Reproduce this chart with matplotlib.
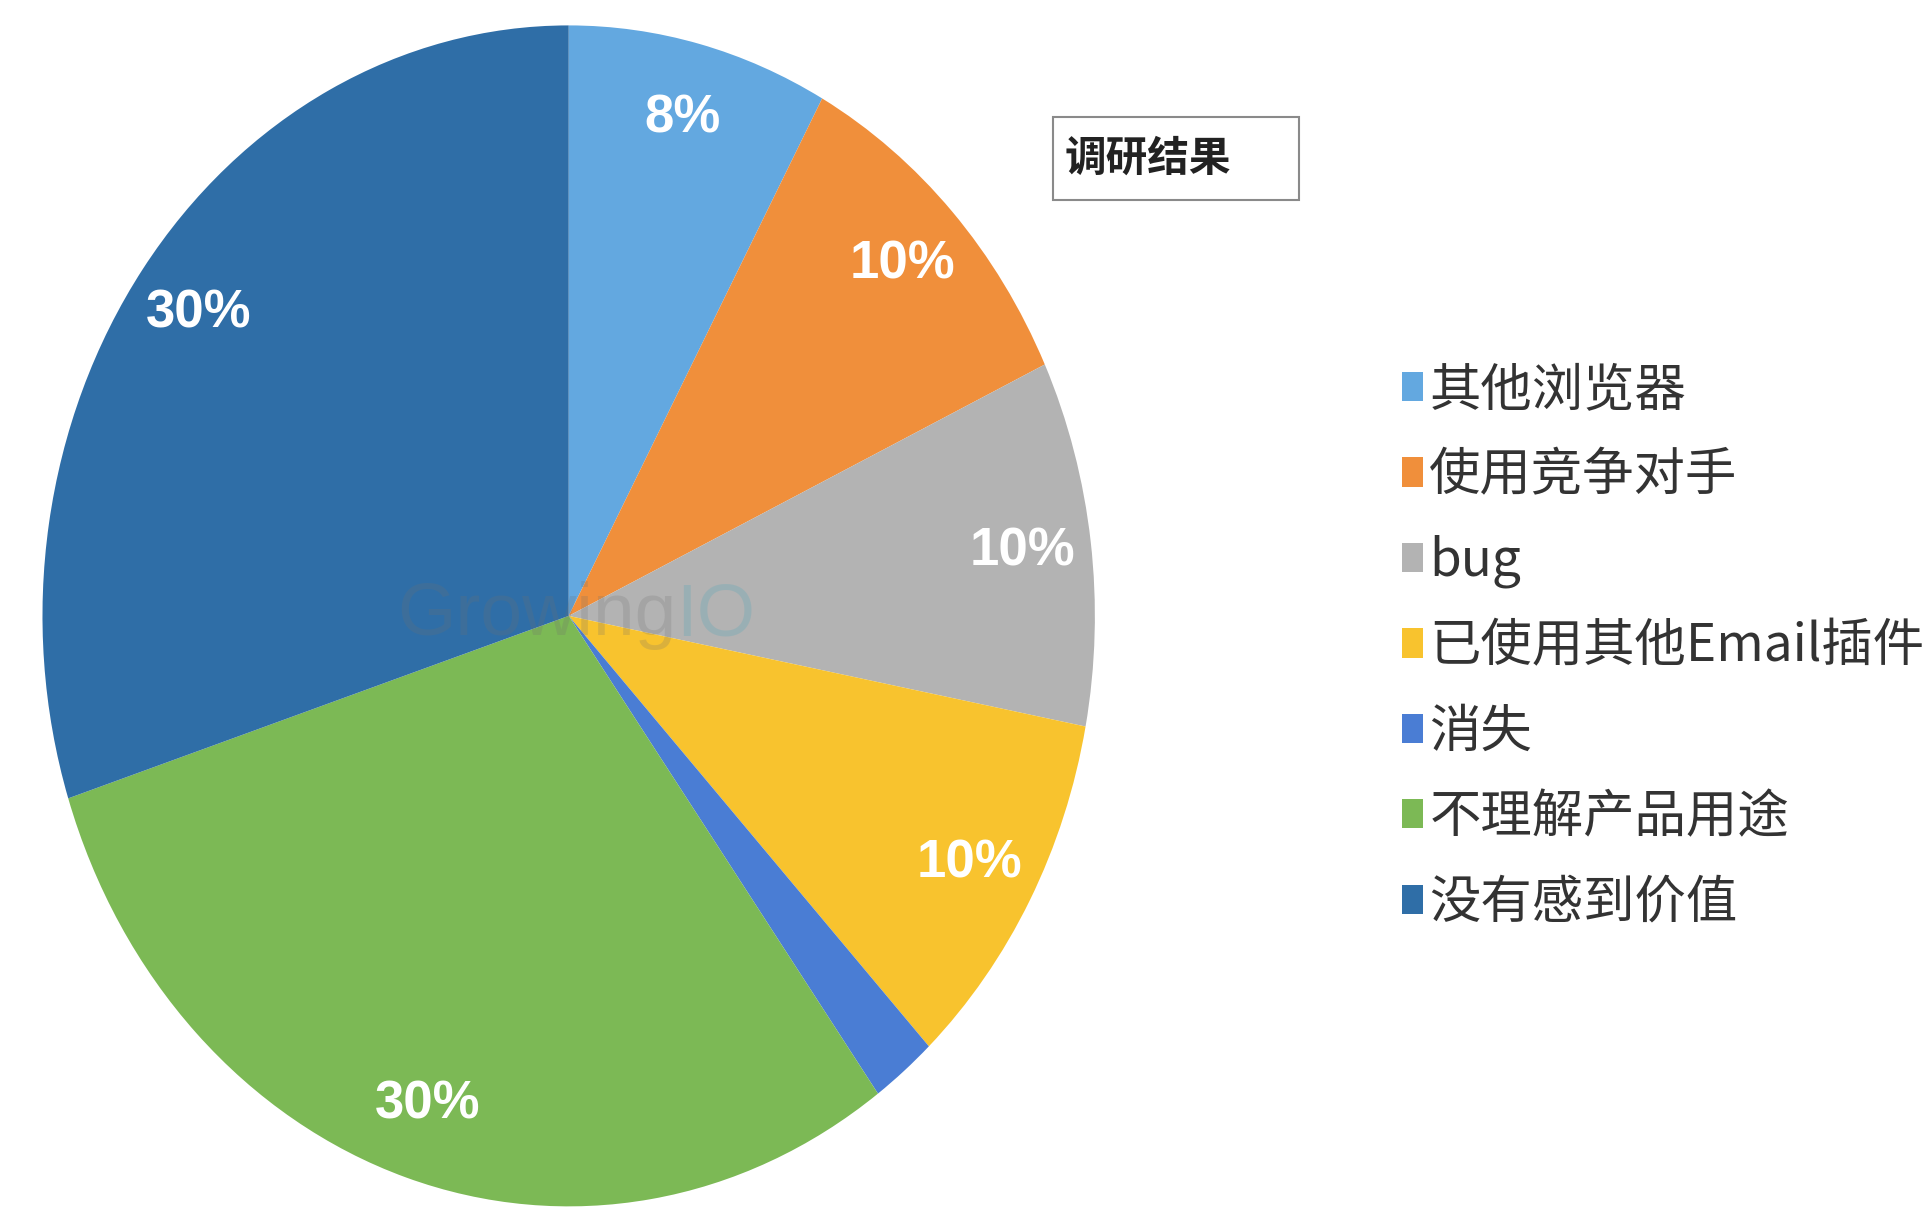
import matplotlib
matplotlib.use('Agg')
import matplotlib.pyplot as plt
from matplotlib.patches import Rectangle

plt.rcParams['font.family'] = ['Noto Sans CJK SC', 'DejaVu Sans']

labels = ['其他浏览器', '使用竞争对手', 'bug', '已使用其他Email插件', '消失', '不理解产品用途', '没有感到价值']
values = [8, 10, 10, 10, 2, 30, 30]
colors = ['#63A8E0', '#F08F3B', '#B3B3B3', '#F8C32E', '#4A7DD4', '#7CB955', '#2F6EA7']
title = '调研结果'

fig = plt.figure(figsize=(19.31, 12.10), dpi=100)
ax = fig.add_axes([0.022, 0.003, 0.545, 0.976])

def pct_label(p):
    return '%d%%' % round(p) if p >= 5 else ''

wedges, texts, autotexts = ax.pie(values, colors=colors, startangle=90, counterclock=False,
                                  autopct=pct_label, pctdistance=0.87,
                                  wedgeprops=dict(linewidth=0))
for t in autotexts:
    t.set_color('white')
    t.set_fontsize(38)
    t.set_fontweight('bold')
    t.set_family(['Liberation Sans', 'DejaVu Sans'])

# stretch pie into the oval shape of the axes box
ax.set_aspect('auto')
ax.set_xlim(-1, 1)
ax.set_ylim(-1, 1)
ax.axis('off')

# faint watermark in the middle
ax.text(0.205, 0.0, 'Growing', ha='right', va='center', fontsize=54, color='#707070', alpha=0.22,
        family=['Liberation Sans', 'DejaVu Sans'])
ax.text(0.205, 0.0, 'IO', ha='left', va='center', fontsize=54, color='#4FA7B8', alpha=0.25,
        family=['Liberation Sans', 'DejaVu Sans'])

leg = fig.legend(wedges, labels, loc='upper left', bbox_to_anchor=(0.713, 0.721),
                 frameon=False, handlelength=0.4, handleheight=0.5,
                 handletextpad=0.12, labelspacing=0.62, borderpad=0,
                 prop=dict(size=37, weight='medium'))
for t in leg.get_texts():
    t.set_color('#333333')

# boxed title
fig.patches.append(Rectangle((0.5453, 0.8347), 0.1274, 0.0686, transform=fig.transFigure,
                             fill=False, edgecolor='#8a8a8a', linewidth=1.5))
fig.text(0.5515, 0.8690, title, ha='left', va='center', fontsize=30, fontweight='bold', color='#222222')

fig.savefig('out.png', dpi=100)
